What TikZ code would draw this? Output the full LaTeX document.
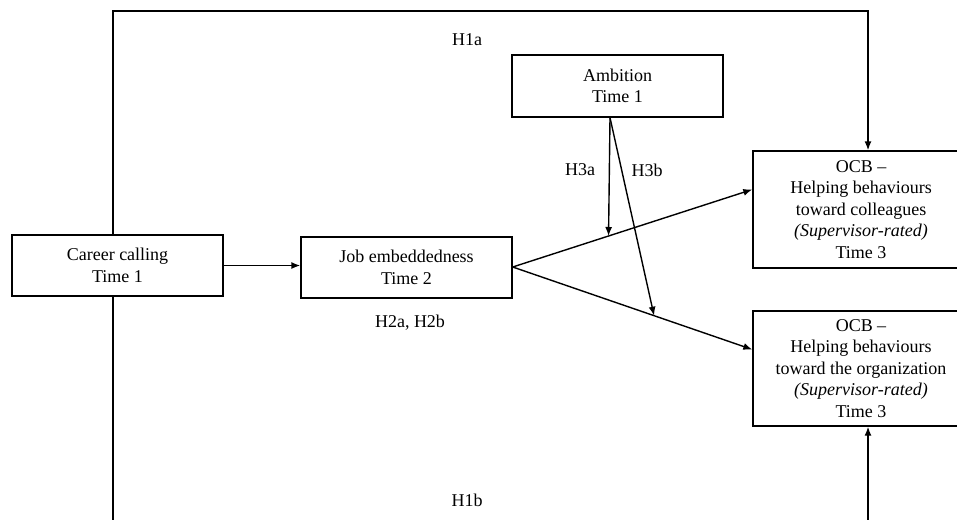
\documentclass[tikz,border=0pt]{standalone}
\usepackage{fontspec}
\setmainfont{Liberation Serif}
\usepackage{tikz}
\usetikzlibrary{arrows.meta}
\usetikzlibrary{positioning}
\tikzstyle{box}=[draw,rectangle,fill=white,line width=1.4pt,align=center,inner sep=2pt, minimum width=211pt, minimum height=61pt]
\tikzstyle{hyp}=[font=\fontsize{18}{21.5}\selectfont]
\tikzstyle{arr}=[line width=1.4pt,-{Latex[length=9pt,width=7pt]}]

\begin{document}
\begin{tikzpicture}[x=1pt,y=-1pt,font=\fontsize{18}{21.5}\selectfont]
      \useasboundingbox (0,0) rectangle (957,519);
      \node [box] (career) at (117.5,265.5) {Career calling\\Time 1};
      \node [box] (job) at (406.5,267.5) {Job embeddedness\\Time 2};
      \node [box, minimum height=62pt] (amb) at (617.5,86) {Ambition\\Time 1};
      \node [box, minimum width=216pt, minimum height=117pt] (ocb1) at (861,209.5) {OCB --\\Helping behaviours\\toward colleagues\\\textit{(Supervisor-rated)}\\Time 3};
      \node [box, minimum width=216pt, minimum height=115pt] (ocb2) at (861,368.5) {OCB --\\Helping behaviours\\toward the organization\\\textit{(Supervisor-rated)}\\Time 3};
      \coordinate (topR) at (868,11);
      \coordinate (botL) at (113,522);
      \coordinate (botR) at (868,522);
      % H1a / H1b
      \draw [arr] ([xshift=-4.5]career.north) |- (topR) -- (topR |- ocb1.north);
      \draw [line width=1.4pt] ([xshift=-4.5]career.south) -- (botL);
      \draw [arr] (botR) -- (botR |- ocb2.south);
      % mediation
      \draw [arr] (career.east) -- (career.east -| job.west);
      \draw [arr] ([yshift=0.5]job.east) -- ([yshift=20]ocb1.west) coordinate [pos=0.4] (m1);
      \draw [arr] ([yshift=0.5]job.east) -- ([yshift=19]ocb2.west) coordinate [pos=0.59] (m2);
      % moderation
      \draw [arr] ([xshift=-7.5]amb.south) -- (m1);
      \draw [arr] ([xshift=-7.5]amb.south) -- (m2);
      \node [hyp] (h1a) at (467,40) {H1a};
      \node [hyp] (h1b) at (467,500) {H1b};
      \node [hyp] (h2) at (410,323) {H2a, H2b};
      \node [hyp] (h3a) at (580,170) {H3a};
      \node [hyp] (h3b) at (647,170) {H3b};
\end{tikzpicture}
\end{document}
